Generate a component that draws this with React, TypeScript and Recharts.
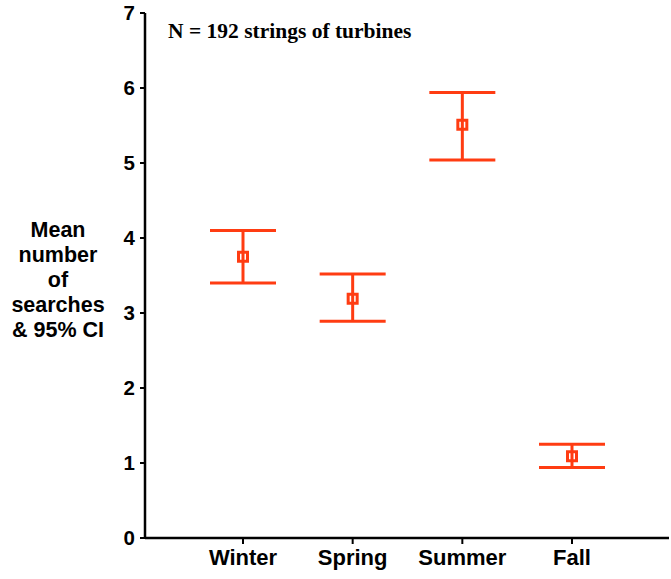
import React from 'react';
import { ComposedChart, XAxis, YAxis, Scatter, ErrorBar } from 'recharts';

const seasons = ['Winter', 'Spring', 'Summer', 'Fall'];
const means = [3.75, 3.19, 5.51, 1.09];
const lowerCI = [3.40, 2.89, 5.04, 0.94];
const upperCI = [4.10, 3.52, 5.94, 1.25];
const yTicks = [0, 1, 2, 3, 4, 5, 6, 7];
const yLabelLines = ['Mean', 'number', 'of', 'searches', '& 95% CI'];
const note = 'N = 192 strings of turbines';

const RED = '#ff3c12';
const SANS = '"Liberation Sans", Arial, sans-serif';
const SERIF = '"Liberation Serif", "Times New Roman", serif';

const data = seasons.map((s, i) => ({
  season: s,
  mean: means[i],
  err: [means[i] - lowerCI[i], upperCI[i] - means[i]],
}));

const SquareMarker = (props: any) => {
  const { cx, cy } = props;
  if (cx == null || cy == null) return null;
  return (
    <rect x={cx - 4.5} y={cy - 4.5} width={9} height={9} fill="none" stroke={RED} strokeWidth={3} />
  );
};

const YLabel = (props: any) => {
  const vb = props.viewBox || { x: 0, y: 0, width: 145, height: 525 };
  const cx = vb.x + 58;
  const cy = vb.y + vb.height / 2 + 4;
  return (
    <text textAnchor="middle" fontFamily={SANS} fontWeight="bold" fontSize={21.5} fill="#000">
      {yLabelLines.map((t, i) => (
        <tspan key={i} x={cx} y={cy + (i - 2) * 25 + 7}>{t}</tspan>
      ))}
    </text>
  );
};

export default function App() {
  return (
    <div style={{ position: 'absolute', left: 0, top: 0, background: '#fff' }}>
      <ComposedChart width={671} height={579} data={data} margin={{ top: 13, right: 2, bottom: 0, left: 0 }}>
        <XAxis
          dataKey="season"
          type="category"
          height={41}
          padding={{ left: 98, right: 97 }}
          axisLine={{ stroke: '#000', strokeWidth: 2.5 }}
          tickLine={{ stroke: '#000', strokeWidth: 2 }}
          tickSize={6}
          tickMargin={5}
          tick={{ fill: '#000', fontFamily: SANS, fontWeight: 'bold', fontSize: 22 }}
        />
        <XAxis xAxisId="top" orientation="top" dataKey="season" height={0} tick={false} tickLine={false}
          axisLine={{ stroke: '#222', strokeWidth: 2 }} />
        <YAxis
          domain={[0, 7]}
          ticks={yTicks}
          width={145}
          interval={0}
          axisLine={{ stroke: '#000', strokeWidth: 2.5 }}
          tickLine={{ stroke: '#000', strokeWidth: 2 }}
          tickSize={5}
          tickMargin={5}
          tick={{ fill: '#000', fontFamily: SANS, fontWeight: 'bold', fontSize: 20.5 }}
          label={{ content: YLabel }}
        />
        <YAxis yAxisId="right" orientation="right" width={0} domain={[0, 7]} tick={false} tickLine={false}
          axisLine={{ stroke: '#222', strokeWidth: 2 }} />
        <Scatter dataKey="mean" isAnimationActive={false} shape={SquareMarker}>
          <ErrorBar dataKey="err" direction="y" width={33} stroke={RED} strokeWidth={3} isAnimationActive={false} />
        </Scatter>
        <text x={168} y={38} fontFamily={SERIF} fontWeight="bold" fontSize={21.5} fill="#000">{note}</text>
      </ComposedChart>
    </div>
  );
}
